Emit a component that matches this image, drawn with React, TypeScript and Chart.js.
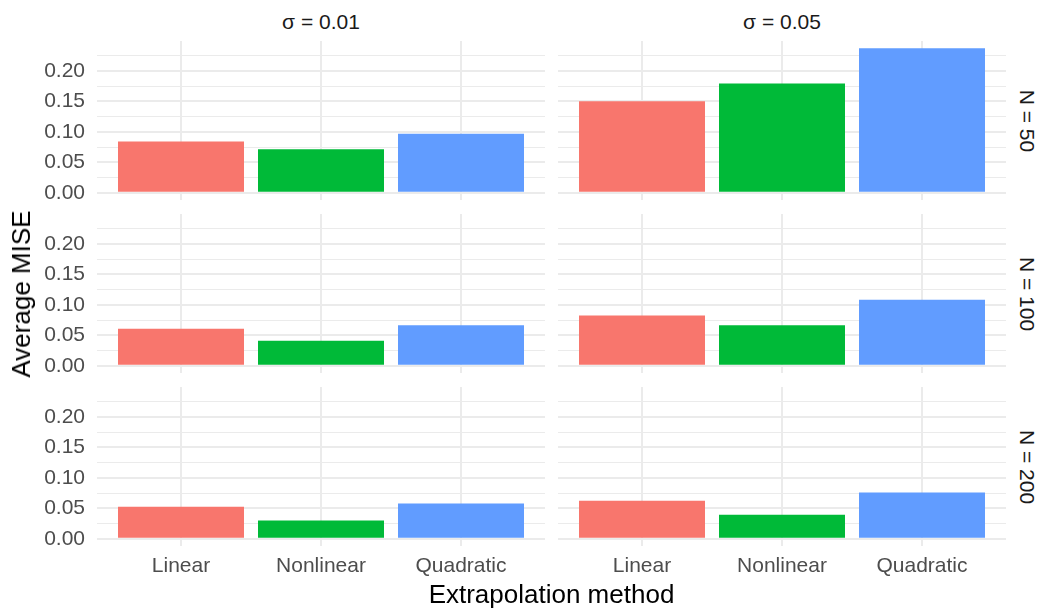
import React, { useEffect, useRef } from "react";
import { Chart, registerables } from "chart.js";

Chart.register(...registerables);

// ---------- data ----------
const methods = ["Linear", "Nonlinear", "Quadratic"];
const sigmaLabels = ["σ = 0.01", "σ = 0.05"];
const nLabels = ["N = 50", "N = 100", "N = 200"];
const methodColors = ["#F8766D", "#00BA38", "#619CFF"];

const miseSigma001N50 = [0.0843, 0.0716, 0.0967];
const miseSigma005N50 = [0.15, 0.1795, 0.2372];
const miseSigma001N100 = [0.0607, 0.041, 0.0666];
const miseSigma005N100 = [0.0825, 0.0666, 0.1082];
const miseSigma001N200 = [0.0525, 0.0301, 0.058];
const miseSigma005N200 = [0.0623, 0.0393, 0.0761];

const yTickValues = [0, 0.025, 0.05, 0.075, 0.1, 0.125, 0.15, 0.175, 0.2, 0.225];

const panelValues = [
  [miseSigma001N50, miseSigma005N50],
  [miseSigma001N100, miseSigma005N100],
  [miseSigma001N200, miseSigma005N200],
];

// shared y range (ggplot-like 5% expansion)
const allValues = panelValues.flat(2);
const dataMax = Math.max(...allValues);
const Y_MIN = -0.05 * dataMax;
const Y_MAX = dataMax * 1.05;

// ---------- layout ----------
const FONT = "'Liberation Sans', Arial, Helvetica, sans-serif";
const PANEL_X = [97, 558];
const PANEL_Y = [41, 214, 387];
const PANEL_W = 448;
const PANEL_H = 159;
const Y_AXIS_W = 67;
const X_AXIS_H = 40;
const TICK_SIZE = 21;
const TITLE_SIZE = 26;

function zeroPad(s: any) {
  s.paddingLeft = 0;
  s.paddingRight = 0;
  s.paddingTop = 0;
  s.paddingBottom = 0;
}

function Panel({ row, col }: { row: number; col: number }) {
  const ref = useRef<HTMLCanvasElement | null>(null);
  const showY = col === 0;
  const showX = row === 2;
  const left = PANEL_X[col] - (showY ? Y_AXIS_W : 0);
  const top = PANEL_Y[row];
  const width = PANEL_W + (showY ? Y_AXIS_W : 0);
  const height = PANEL_H + (showX ? X_AXIS_H : 0);

  useEffect(() => {
    if (!ref.current) return;
    const values = panelValues[row][col];
    const chart = new Chart(ref.current, {
      type: "bar",
      data: {
        datasets: [
          {
            data: values.map((v, i) => ({ x: i + 1, y: v })),
            backgroundColor: methodColors,
            borderWidth: 0,
            categoryPercentage: 0.9,
            barPercentage: 1,
          },
        ],
      },
      options: {
        responsive: false,
        maintainAspectRatio: false,
        animation: false,
        events: [],
        layout: { padding: 0 },
        plugins: { legend: { display: false }, tooltip: { enabled: false } },
        scales: {
          x: {
            type: "linear",
            min: 0.4,
            max: 3.6,
            offset: false,
            bounds: "data",
            afterBuildTicks: (s: any) => {
              s.ticks = methods.map((_, i) => ({ value: i + 1 }));
            },
            afterFit: (s: any) => {
              s.height = showX ? X_AXIS_H : 0;
              zeroPad(s);
            },
            ticks: {
              display: showX,
              autoSkip: false,
              maxRotation: 0,
              padding: 8,
              color: "#4D4D4D",
              font: { family: FONT, size: TICK_SIZE },
              callback: (v: any) => methods[Math.round(Number(v)) - 1] ?? "",
            },
            grid: { offset: false, color: "#EBEBEB", lineWidth: 2, drawTicks: false },
            border: { display: false },
          },
          y: {
            type: "linear",
            min: Y_MIN,
            max: Y_MAX,
            bounds: "data",
            afterBuildTicks: (s: any) => {
              s.ticks = yTickValues.map((v) => ({ value: v }));
            },
            afterFit: (s: any) => {
              s.width = showY ? Y_AXIS_W : 0;
              zeroPad(s);
            },
            ticks: {
              display: showY,
              autoSkip: false,
              padding: 12,
              color: "#4D4D4D",
              font: { family: FONT, size: TICK_SIZE },
              callback: (v: any, i: number) => (i % 2 === 0 ? Number(v).toFixed(2) : ""),
            },
            grid: {
              color: "#EBEBEB",
              lineWidth: (ctx: any) => (ctx.index % 2 === 0 ? 2 : 1),
              drawTicks: false,
            },
            border: { display: false },
          },
        },
      } as any,
    });
    return () => chart.destroy();
  }, [row, col]);

  return (
    <canvas
      ref={ref}
      width={width}
      height={height}
      style={{ position: "absolute", left, top, width, height }}
    />
  );
}

function Label({
  text,
  x,
  y,
  size,
  color,
  rotate = 0,
}: {
  text: string;
  x: number;
  y: number;
  size: number;
  color: string;
  rotate?: number;
}) {
  return (
    <div
      style={{
        position: "absolute",
        left: x,
        top: y,
        transform: `translate(-50%, -50%) rotate(${rotate}deg)`,
        fontFamily: FONT,
        fontSize: size,
        lineHeight: 1,
        color,
        whiteSpace: "nowrap",
      }}
    >
      {text}
    </div>
  );
}

export default function App() {
  const panels = [];
  for (let r = 0; r < 3; r++) for (let c = 0; c < 2; c++) panels.push(<Panel key={`${r}-${c}`} row={r} col={c} />);
  return (
    <div
      style={{
        position: "fixed",
        left: 0,
        top: 0,
        width: 1043,
        height: 615,
        background: "#FFFFFF",
        overflow: "hidden",
      }}
    >
      {panels}
      {sigmaLabels.map((t, c) => (
        <Label key={t} text={t} x={PANEL_X[c] + PANEL_W / 2} y={21} size={TICK_SIZE} color="#1A1A1A" />
      ))}
      {nLabels.map((t, r) => (
        <Label key={t} text={t} x={1027} y={PANEL_Y[r] + PANEL_H / 2} size={TICK_SIZE} color="#1A1A1A" rotate={90} />
      ))}
      <Label text="Average MISE" x={21} y={(PANEL_Y[0] + PANEL_Y[2] + PANEL_H) / 2} size={TITLE_SIZE} color="#000000" rotate={-90} />
      <Label text="Extrapolation method" x={(PANEL_X[0] + PANEL_X[1] + PANEL_W) / 2} y={594} size={TITLE_SIZE} color="#000000" />
    </div>
  );
}
